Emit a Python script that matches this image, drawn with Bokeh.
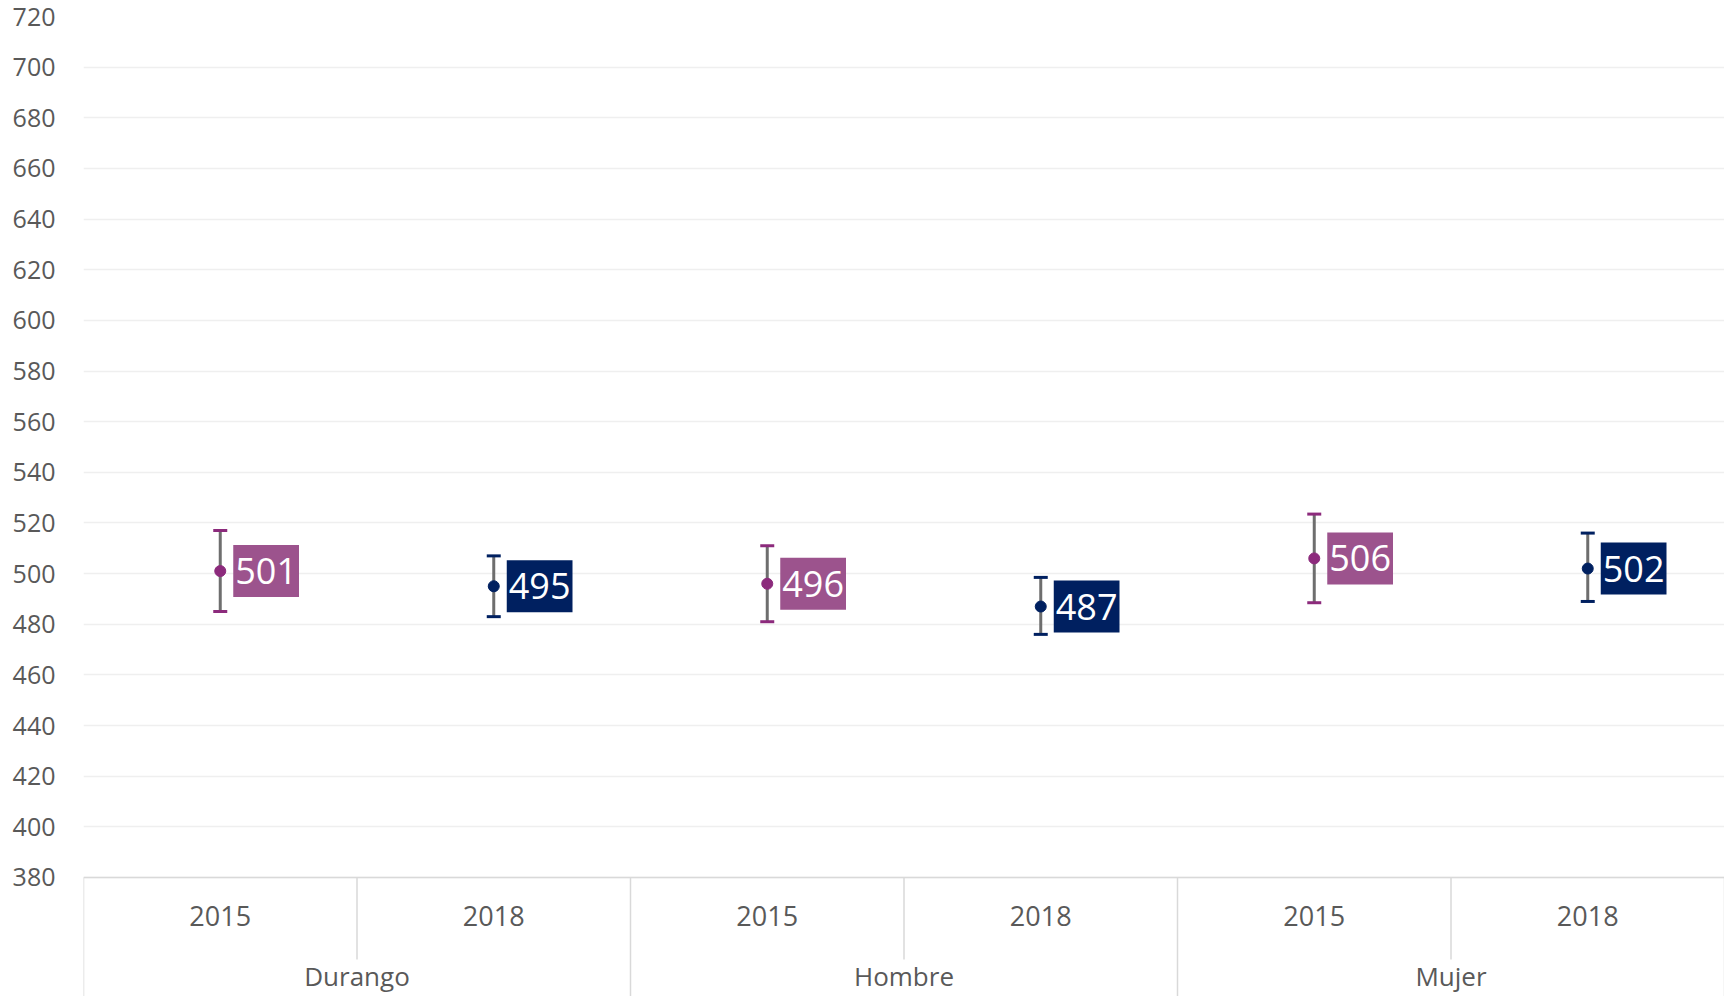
from bokeh.plotting import figure
from bokeh.models import (ColumnDataSource, FactorRange, Range1d, FixedTicker,
                          CategoricalAxis, Whisker, TeeHead)
from bokeh.core.properties import value
from bokeh.embed import file_html
from bokeh.resources import INLINE

groups = ["Durango", "Hombre", "Mujer"]
years = ["2015", "2018"]
means = [501, 495, 496, 487, 506, 502]
upper = [517, 507, 511, 498.5, 523.5, 516]
lower = [485, 483, 481, 476, 488.5, 489]
y_ticks = [380, 400, 420, 440, 460, 480, 500, 520, 540, 560, 580, 600, 620, 640, 660, 680, 700, 720]

marker_colors = {"2015": "#8C2A7C", "2018": "#002060"}
label_colors = {"2015": "#9C538D", "2018": "#002060"}

FONT = "Open Sans"
GREY_TXT = "#595959"
LINE_GREY = "#d9d9d9"

factors = [(g, y) for g in groups for y in years]

p = figure(x_range=FactorRange(*factors, factor_padding=0, group_padding=0, range_padding=0),
           y_range=Range1d(333, 720),
           width=1724, height=996, output_backend="svg", toolbar_location=None,
           x_axis_location=None,
           min_border_left=83, min_border_right=0, min_border_top=16, min_border_bottom=0)
p.outline_line_color = None
p.xgrid.grid_line_color = None
p.ygrid.grid_line_color = "#efefef"
p.ygrid.grid_line_width = 1.5
p.background_fill_color = "white"

ya = p.yaxis[0]
ya.ticker = FixedTicker(ticks=y_ticks)
ya.axis_line_color = None
ya.major_tick_line_color = None
ya.minor_tick_line_color = None
ya.major_tick_out = 0
ya.major_label_standoff = 28
ya.major_label_text_font = FONT
ya.major_label_text_font_size = "25px"
ya.major_label_text_color = GREY_TXT
p.ygrid.ticker = FixedTicker(ticks=y_ticks)

# category "table" lines (drawn from factor indices)
n = len(factors)
per = len(years)
base_y = y_ticks[0]
xs_full = [i for i in range(n + 1) if i % per == 0]
xs_short = [i for i in range(n + 1) if i % per != 0]
p.segment(x0=xs_full, y0=[base_y] * len(xs_full), x1=xs_full, y1=[333] * len(xs_full),
          line_color=LINE_GREY, line_width=1.5)
p.segment(x0=xs_short, y0=[base_y] * len(xs_short), x1=xs_short, y1=[347.6] * len(xs_short),
          line_color=LINE_GREY, line_width=1.5)

xa = CategoricalAxis(fixed_location=base_y)
xa.axis_line_color = LINE_GREY
xa.axis_line_width = 1.5
xa.major_tick_line_color = None
xa.major_tick_out = 0
xa.major_tick_in = 0
xa.major_label_standoff = 29
xa.major_label_text_font = FONT
xa.major_label_text_font_size = "27px"
xa.major_label_text_color = GREY_TXT
xa.group_text_font = FONT
xa.group_text_font_size = "26px"
xa.group_text_font_style = "normal"
xa.group_text_color = GREY_TXT
xa.separator_line_color = None
p.add_layout(xa, "below")

for yr in years:
    idx = [i for i, f in enumerate(factors) if f[1] == yr]
    src = ColumnDataSource(dict(
        x=[factors[i] for i in idx],
        y=[means[i] for i in idx],
        upper=[upper[i] for i in idx],
        lower=[lower[i] for i in idx],
        label=[str(means[i]) for i in idx],
    ))
    col = marker_colors[yr]
    w = Whisker(source=src, base="x", upper="upper", lower="lower", dimension="height",
                line_color="#6e6e6e", line_width=3,
                upper_head=TeeHead(size=14, line_color=col, line_width=3),
                lower_head=TeeHead(size=14, line_color=col, line_width=3))
    p.add_layout(w)
    p.scatter(x="x", y="y", source=src, size=11, fill_color=col, line_color=col)
    p.text(x="x", y="y", text="label", source=src, x_offset=13,
           text_align="left", text_baseline="middle", text_color="white",
           text_font=value(FONT), text_font_size="36px",
           background_fill_color=label_colors[yr], padding=(2, 13))

open("out.html", "w").write(file_html(p, INLINE))
